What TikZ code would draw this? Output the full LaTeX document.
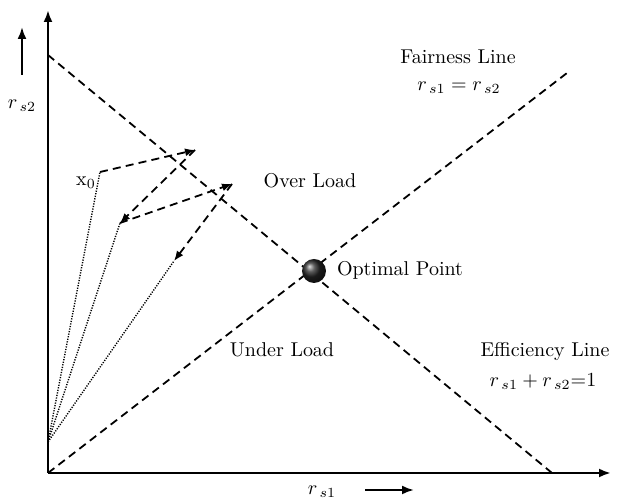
\documentclass[tikz,border=0pt]{standalone}
\usetikzlibrary{arrows.meta}

\begin{document}
\begin{tikzpicture}[x=0.5pt,y=-0.5pt,>=Latex,
  axis/.style={line width=1.4pt,->,>={Latex[length=6pt,width=4.5pt]}},
  limit/.style={line width=0.9pt,dash pattern=on 4pt off 2.6pt},
  move/.style={limit,->,>={Latex[length=5pt,width=4pt]}},
  trace/.style={line width=0.7pt,dash pattern=on 0.6pt off 0.7pt},
  hint/.style={line width=1.1pt,->,>={Latex[length=6pt,width=4.5pt]}},
  lbl/.style={font=\fontsize{10}{12}\selectfont}]
  \useasboundingbox (0,0) rectangle (617,501);
  % axes
  \coordinate (O) at (48,473);
  \coordinate (xend) at (611,473);
  \coordinate (yend) at (48,10);
  \draw[axis] (O) -- (xend);
  \draw[axis] (O) -- (yend);
  % efficiency and fairness lines
  \coordinate (E1) at (48,55);
  \coordinate (E2) at (552,473);
  \coordinate (F2) at (567,73);
  \draw[limit] (E1) -- (E2);
  \draw[limit] (O) -- (F2);
  % trajectory
  \coordinate (start) at (48,442);
  \coordinate (x0) at (100,172);
  \coordinate (p1) at (195,150);
  \coordinate (p2) at (120,223);
  \coordinate (p3) at (232,184);
  \coordinate (p4) at (174,261);
  \foreach \p in {x0,p2,p4}
    \draw[trace] (start) -- (\p);
  \draw[move] (x0) -- (p1);
  \draw[move] (p1) -- (p2);
  \draw[move] (p2) -- (p3);
  \draw[move] (p3) -- (p4);
  % optimal point
  \coordinate (opt) at (314,271);
  \shade[ball color=black!85] (opt) circle[radius=6pt];
  % labels
  \node[lbl] (x0lbl) at (86,183) {x$_0$};
  \node[lbl] (over) at (310,181) {Over Load};
  \node[lbl,right] (optlbl) at (330,270) {Optimal Point};
  \node[lbl] (under) at (282,350) {Under Load};
  \node[lbl] (fair) at (458,57) {Fairness Line};
  \node[lbl] (faireq) at (459,88) {$r_{\,s1}=r_{\,s2}$};
  \node[lbl] (eff) at (545,352) {Efficiency Line};
  \node[lbl] (effeq) at (543,381) {$r_{\,s1}+r_{\,s2}$=1};
  \node[lbl] (ry) at (22,106) {$r_{\,s2}$};
  \coordinate (ry1) at (22,75);
  \coordinate (ry2) at (22,27);
  \draw[hint] (ry1) -- (ry2);
  \node[lbl] (rx) at (322,492) {$r_{\,s1}$};
  \coordinate (rx1) at (365,490);
  \coordinate (rx2) at (414,490);
  \draw[hint] (rx1) -- (rx2);
\end{tikzpicture}
\end{document}
